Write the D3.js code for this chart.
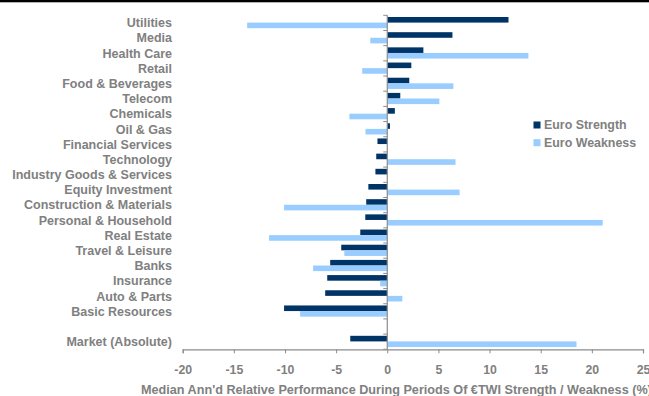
<!DOCTYPE html>
<html>
<head>
<meta charset="utf-8">
<script src="https://cdn.jsdelivr.net/npm/d3@7"></script>
<style>
  html, body { margin: 0; padding: 0; background: #fff; }
  svg { display: block; }
  text { font-family: "Liberation Sans", Arial, sans-serif; font-weight: bold; fill: #808080; }
</style>
</head>
<body>
<svg id="chart" width="649" height="396"></svg>
<script>
// Sectors, top to bottom; the empty entry is a spacer row before the market line
const categories = [
  "Utilities", "Media", "Health Care", "Retail", "Food & Beverages", "Telecom",
  "Chemicals", "Oil & Gas", "Financial Services", "Technology",
  "Industry Goods & Services", "Equity Investment", "Construction & Materials",
  "Personal & Household", "Real Estate", "Travel & Leisure", "Banks",
  "Insurance", "Auto & Parts", "Basic Resources", "", "Market (Absolute)"
];

// Median annualised relative performance (%) during euro TWI strength
const euroStrength = [
  11.85, 6.37, 3.53, 2.35, 2.15, 1.27,
  0.74, 0.26, -0.96, -1.08,
  -1.16, -1.85, -2.06,
  -2.15, -2.64, -4.5, -5.58,
  -5.87, -6.07, -10.09, null, -3.62
];

// ... and during euro TWI weakness
const euroWeakness = [
  -13.7, -1.66, 13.8, -2.45, 6.46, 5.09,
  -3.7, -2.13, 0, 6.67,
  0, 7.07, -10.09,
  21.06, -11.56, -4.2, -7.25,
  -0.69, 1.47, -8.52, null, 18.5
];

const seriesNames = ["Euro Strength", "Euro Weakness"];
const xTicks = [-20, -15, -10, -5, 0, 5, 10, 15, 20, 25];
const xTitle = "Median Ann'd Relative Performance During Periods Of \u20ACTWI Strength / Weakness (%)";

const colors = { "Euro Strength": "#003366", "Euro Weakness": "#99CCFF" };
const axisGrey = "#8c8c8c";

const svg = d3.select("#chart");

// Black rule across the top
svg.append("rect").attr("x", 0).attr("y", 0).attr("width", 649).attr("height", 2.3).attr("fill", "#000");

const x = d3.scaleLinear().domain([-20, 25]).range([182.7, 643]);
const y = d3.scaleBand().domain(categories).range([15.3, 349.3]).padding(0);
const ySub = d3.scaleBand().domain(seriesNames).range([1.7, 12.9]).padding(0);

const rows = categories.map((c, i) => ({
  cat: c,
  values: [
    { series: "Euro Strength", v: euroStrength[i] },
    { series: "Euro Weakness", v: euroWeakness[i] }
  ]
}));

// Bars
const g = svg.append("g");
rows.forEach(r => {
  r.values.forEach(d => {
    if (d.v === null || d.v === 0) return;
    g.append("rect")
      .attr("x", x(Math.min(0, d.v)))
      .attr("width", Math.abs(x(d.v) - x(0)))
      .attr("y", y(r.cat) + ySub(d.series))
      .attr("height", ySub.bandwidth())
      .attr("fill", colors[d.series]);
  });
});

// Category labels
svg.append("g").selectAll("text")
  .data(categories.filter(c => c !== ""))
  .join("text")
  .attr("x", 172)
  .attr("y", d => y(d) + y.bandwidth() / 2)
  .attr("dy", "0.35em")
  .attr("text-anchor", "end")
  .attr("font-size", 12.5)
  .text(d => d);

// Vertical axis at zero with ticks on band boundaries
const bounds = categories.map(c => y(c)).concat([y.range()[1]]);
const zeroAxis = svg.append("g");
zeroAxis.append("line")
  .attr("x1", x(0)).attr("x2", x(0))
  .attr("y1", y.range()[0]).attr("y2", y.range()[1])
  .attr("stroke", axisGrey).attr("stroke-width", 1.2);
zeroAxis.selectAll("line.tick")
  .data(bounds)
  .join("line")
  .attr("class", "tick")
  .attr("x1", x(0) - 4).attr("x2", x(0))
  .attr("y1", d => d).attr("y2", d => d)
  .attr("stroke", axisGrey).attr("stroke-width", 1);

// Horizontal value axis (plain hyphen for negatives)
const xAxis = svg.append("g")
  .attr("transform", `translate(0,${y.range()[1]})`)
  .call(d3.axisBottom(x).tickValues(xTicks).tickFormat(d => String(d))
    .tickSize(4).tickSizeOuter(4).tickPadding(11.5));
xAxis.select(".domain").attr("stroke", axisGrey).attr("stroke-width", 1.2);
xAxis.selectAll(".tick line").attr("stroke", axisGrey);
xAxis.selectAll(".tick text")
  .attr("font-size", 12.3)
  .attr("font-family", "Liberation Sans, Arial, sans-serif")
  .attr("font-weight", "bold")
  .attr("fill", "#808080");

// Axis title
svg.append("text")
  .attr("x", 141)
  .attr("y", 394)
  .attr("font-size", 12.65)
  .text(xTitle);

// Legend
const legend = svg.append("g");
seriesNames.forEach((s, i) => {
  const cy = 125 + i * 17.7;
  legend.append("rect")
    .attr("x", 533.5).attr("y", cy - 3.5)
    .attr("width", 7).attr("height", 7)
    .attr("fill", colors[s]);
  legend.append("text")
    .attr("x", 544).attr("y", cy)
    .attr("dy", "0.35em")
    .attr("font-size", 12.4)
    .text(s);
});
</script>
</body>
</html>
